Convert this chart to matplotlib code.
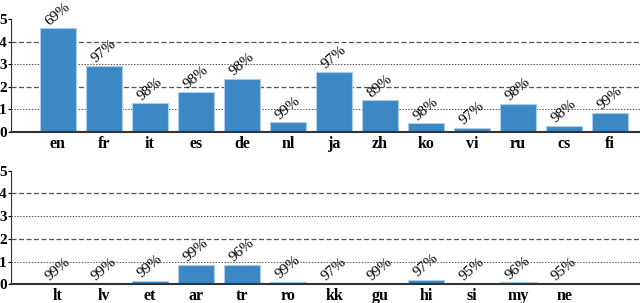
import numpy as np
import matplotlib.pyplot as plt

plt.rcParams['font.family'] = ['Liberation Serif', 'DejaVu Serif']

top_langs = ['en', 'fr', 'it', 'es', 'de', 'nl', 'ja', 'zh', 'ko', 'vi', 'ru', 'cs', 'fi']
top_vals = [4.59, 2.92, 1.27, 1.76, 2.35, 0.43, 2.67, 1.40, 0.38, 0.19, 1.25, 0.27, 0.84]
top_pct = ['69%', '97%', '98%', '98%', '98%', '99%', '97%', '89%', '98%', '97%', '98%', '98%', '99%']

bot_langs = ['lt', 'lv', 'et', 'ar', 'tr', 'ro', 'kk', 'gu', 'hi', 'si', 'my', 'ne']
bot_vals = [0.01, 0.04, 0.15, 0.84, 0.87, 0.10, 0.02, 0.01, 0.19, 0.01, 0.08, 0.01]
bot_pct = ['99%', '99%', '99%', '99%', '96%', '99%', '97%', '99%', '97%', '95%', '96%', '95%']

fig = plt.figure(figsize=(6.4, 3.03), dpi=100)
ax1 = fig.add_axes([11 / 640, 1 - 132 / 303, 629 / 640, 113 / 303])
ax2 = fig.add_axes([11 / 640, 1 - 284.3 / 303, 629 / 640, 113.6 / 303])


def draw(ax, langs, vals, pct):
    x = np.arange(len(langs))
    for y, ls, lw in [(1, (0, (1.5, 1.5)), 0.7), (2, (0, (4, 2)), 0.9),
                      (3, (0, (1.5, 1.5)), 0.7), (4, (0, (4, 2)), 0.9)]:
        ax.axhline(y, color='#555555', ls=ls, lw=lw, zorder=0)
    ax.bar(x, vals, width=0.78, color='#3b88c4', edgecolor='#a9cdea',
           linewidth=0.8, zorder=2)
    for xi, v, p in zip(x, vals, pct):
        ax.text(xi, v + 0.02, p, rotation=40, ha='center', va='bottom',
                fontsize=11, color='black', zorder=3)
    ax.set_xlim(-1.02, 12.65)
    ax.set_ylim(0, 5)
    ax.set_xticks(x)
    ax.set_xticklabels(langs, fontsize=11.5, fontweight='bold')
    ax.set_yticks(range(6))
    ax.set_yticklabels([str(i) for i in range(6)], fontsize=11, fontweight='bold')
    ax.tick_params(axis='x', length=0, pad=3)
    ax.tick_params(axis='y', length=2, pad=1)
    for s in ['top', 'right']:
        ax.spines[s].set_visible(False)
    ax.spines['left'].set_color('#333333')
    ax.spines['left'].set_linewidth(0.8)
    ax.spines['bottom'].set_color('#333333')
    ax.spines['bottom'].set_linewidth(1.5)
    for t in ax.texts:
        t.set_clip_on(False)


draw(ax1, top_langs, top_vals, top_pct)
draw(ax2, bot_langs, bot_vals, bot_pct)

fig.savefig('out.png', dpi=100)
